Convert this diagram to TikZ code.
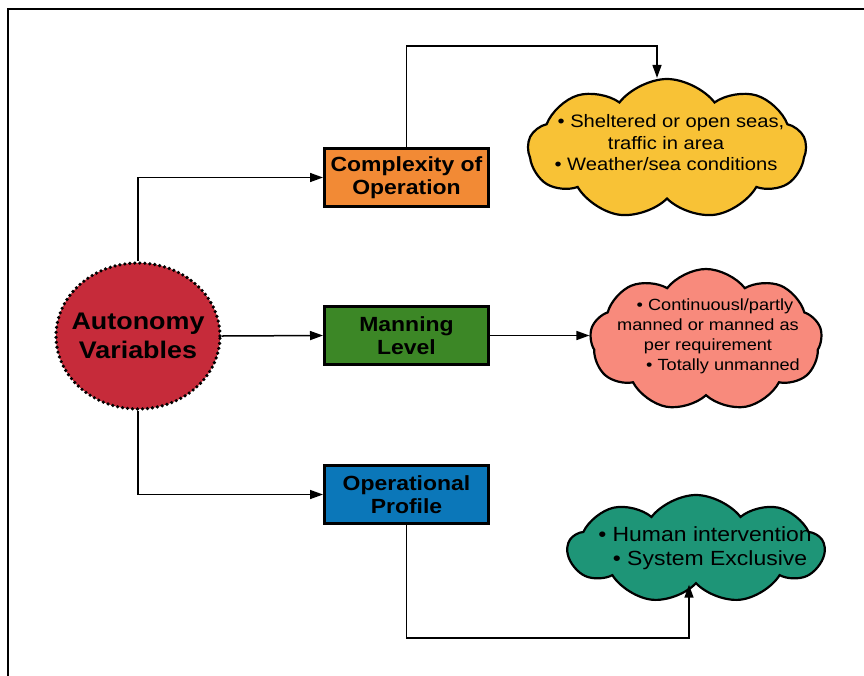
\documentclass[tikz,border=0pt]{standalone}
\usepackage{fontspec}
\setmainfont[FakeStretch=1.12]{Liberation Sans}
\usetikzlibrary{shapes.geometric,shapes.symbols,arrows.meta}

\definecolor{avred}{HTML}{C62B3A}
\definecolor{cxorange}{HTML}{F28A35}
\definecolor{mngreen}{HTML}{3C8726}
\definecolor{opblue}{HTML}{0B77B9}
\definecolor{cloudyellow}{HTML}{F8C236}
\definecolor{cloudsalmon}{HTML}{F88A7C}
\definecolor{cloudteal}{HTML}{1E9577}

\tikzset{
  varbox/.style={draw=black, line width=3pt, minimum width=164pt, minimum height=58pt,
    inner sep=0pt, align=center, font=\fontsize{20.5}{23.5}\selectfont\bfseries},
  bubble/.style={cloud, cloud puffs=9, cloud puff arc=105, cloud ignores aspect,
    draw=black, line width=2.2pt, inner sep=0pt},
  bubbletext/.style={align=center, inner sep=0pt},
  conn/.style={draw=black, line width=1.5pt,
    -{Triangle[length=13pt, width=9pt]}},
}

\begin{document}
\begin{tikzpicture}[x=1pt, y=-1pt]
\useasboundingbox (0,0) rectangle (864,675);

% outer frame
\draw[line width=2.2pt] (8,680) -- (8,9) -- (870,9);

% central variable: dotted ellipse with its label on top
\node[ellipse, fill=avred, draw=black, line width=3.6pt, line cap=round,
      dash pattern=on 0pt off 5pt, minimum width=164pt, minimum height=146pt,
      inner sep=0pt] (av) at (138,336) {};
\node[align=center, inner sep=0pt, font=\fontsize{24}{28.5}\selectfont\bfseries]
  (avtext) at (av.center) {Autonomy\\Variables};

% the three variables
\node[varbox, fill=cxorange] (cx) at (406.5,177.5) {Complexity of\\Operation};
\node[varbox, fill=mngreen]  (mn) at (406.5,335.5) {Manning\\Level};
\node[varbox, fill=opblue]   (op) at (406.5,494.5) {Operational\\Profile};

% clouds
\node[bubble, fill=cloudyellow, minimum width=278pt, minimum height=140pt] (cl1) at (667,149) {};
\node[bubbletext, font=\fontsize{18}{21.5}\selectfont] (t1) at (666,143)
  {\hspace*{10pt}\textbullet\ Sheltered or open seas,\\traffic in area\\\textbullet\ Weather/sea conditions};

\node[bubble, fill=cloudsalmon, minimum width=232pt, minimum height=142pt] (cl2) at (706,340) {};
\node[bubbletext, font=\fontsize{16.2}{20}\selectfont] (t2) at (708,336)
  {\hspace*{14pt}\textbullet\ Continuousl/partly\\manned or manned as\\per requirement\\\hspace*{30pt}\textbullet\ Totally unmanned};

\node[bubble, fill=cloudteal, minimum width=256pt, minimum height=108pt] (cl3) at (696,549) {};
\node[bubbletext, font=\fontsize{20.5}{23.5}\selectfont] (t3) at (705,548)
  {\textbullet\ Human intervention\\\hspace*{10pt}\textbullet\ System Exclusive};

% connectors
\draw[conn] (av.north) |- (cx.west);
\draw[conn] (av.east) -- (mn.west);
\draw[conn] (av.south) |- (op.west);
\draw[conn] (cx.north) -- ++(0,-101) -| ([xshift=-10pt]cl1.north);
\draw[conn] (mn.east) -- (mn.east -| cl2.west);
\draw[conn] (op.south) -- ++(0,113) -| ([xshift=-7pt]cl3.south);
\end{tikzpicture}
\end{document}
